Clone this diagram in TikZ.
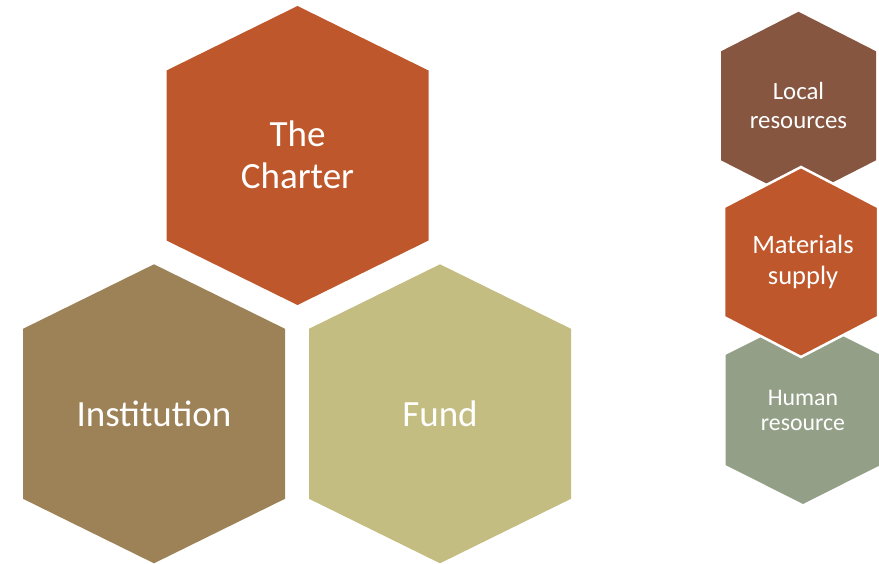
\documentclass[tikz,border=0pt]{standalone}
\usepackage{fontspec}
\setmainfont{Carlito}
\definecolor{rust}{RGB}{190,88,44}
\definecolor{khaki}{RGB}{156,130,86}
\definecolor{sage}{RGB}{195,189,129}
\definecolor{cocoa}{RGB}{134,86,65}
\definecolor{moss}{RGB}{147,160,135}
% filled hexagon: #1 style, #2 cx, #3 cy, #4 half width, #5 half height, #6 side offset
\newcommand\hexcell[6]{%
  \path[#1] (#2,#3-#5) -- (#2+#4,#3-#6) -- (#2+#4,#3+#6) -- (#2,#3+#5)
    -- (#2-#4,#3+#6) -- (#2-#4,#3-#6) -- cycle;}
\begin{document}
\begin{tikzpicture}[x=1pt,y=-1pt,
  lbl/.style={text=white,align=center,inner sep=0pt},
  biglbl/.style={lbl,font=\fontsize{37}{42}\selectfont},
  midlbl/.style={lbl,font=\fontsize{26.5}{31}\selectfont},
  loclbl/.style={lbl,font=\fontsize{24.8}{29}\selectfont},
  smalllbl/.style={lbl,font=\fontsize{23.8}{25.5}\selectfont}]
\useasboundingbox (0,0) rectangle (879,564);
% large cluster
\hexcell{fill=rust}{297.5}{155.5}{131}{149.5}{85}
\hexcell{fill=khaki}{154}{413.8}{131}{149.5}{85}
\hexcell{fill=sage}{440}{413.8}{131}{149.5}{85}
\node[biglbl] (charter) at (297.5,155) {The\\Charter};
\node[biglbl] (institution) at (154,413.5) {Institution};
\node[biglbl] (fund) at (440,413.5) {Fund};
% small stack on the right
\hexcell{fill=cocoa}{798.5}{105.8}{77.5}{94}{54.5}
\hexcell{fill=moss}{803}{410}{77.5}{94}{55}
\hexcell{fill=rust,draw=white,line width=2.5pt,line join=miter}{801}{262}{77}{95}{55}
\node[loclbl] (local) at (798.5,105.5) {Local\\resources};
\node[midlbl] (materials) at (803,262) {Materials\\supply};
\node[smalllbl] (human) at (803,410.5) {Human\\resource};
\end{tikzpicture}
\end{document}
